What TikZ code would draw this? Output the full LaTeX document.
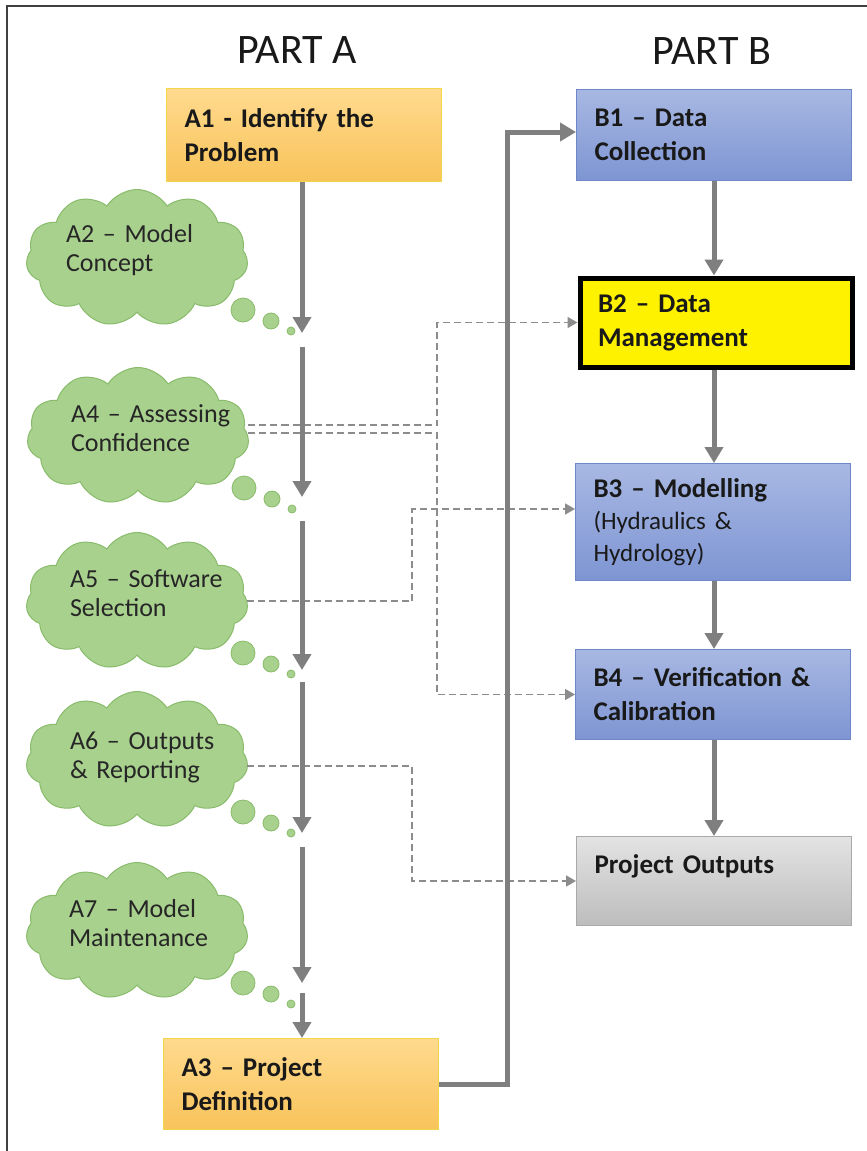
\documentclass[tikz,border=0pt]{standalone}
\usepackage{fontspec}
\setmainfont{Carlito}
\usetikzlibrary{arrows.meta,shapes.symbols,positioning}
\definecolor{arrowgray}{HTML}{7F7F7F}
\definecolor{dashgray}{HTML}{8C8C8C}
\definecolor{frameGray}{HTML}{404040}
\definecolor{aTop}{HTML}{FFDA8E}
\definecolor{aBot}{HTML}{F8C35A}
\definecolor{aLine}{HTML}{F3D54C}
\definecolor{bTop}{HTML}{A8B8E3}
\definecolor{bBot}{HTML}{7E95D3}
\definecolor{bLine}{HTML}{6E87C8}
\definecolor{oTop}{HTML}{E3E3E3}
\definecolor{oBot}{HTML}{BDBDBD}
\definecolor{oLine}{HTML}{A9A9A9}
\definecolor{cloudFill}{HTML}{A9D18E}
\definecolor{cloudLine}{HTML}{88BB6A}
\tikzset{
	>={Triangle[width=18pt,length=16pt]},
	flow/.style={draw=arrowgray, line width=5pt, ->},
	hint/.style={draw=dashgray, line width=1.6pt, dash pattern=on 7pt off 4pt,
		-{Triangle[width=11pt,length=10pt]}},
	stage/.style={
		rectangle,
		anchor=north west,
		inner xsep=18pt, inner ysep=0pt,
		text width=239pt,
		align=left,
		text=black!90,
		font=\fontsize{27}{34}\selectfont\bfseries,
		line width=1pt},
	partA/.style={stage, top color=aTop, bottom color=aBot, draw=aLine},
	partB/.style={stage, top color=bTop, bottom color=bBot, draw=bLine},
	thought/.style={
		cloud, cloud puffs=11, cloud puff arc=115, aspect=1.6, cloud ignores aspect,
		minimum width=222pt, minimum height=137pt, inner sep=0pt,
		fill=cloudFill, draw=cloudLine, line width=1pt},
	thoughttext/.style={text width=170pt, inner sep=0pt, xshift=14pt, yshift=8pt, align=left,
		font=\fontsize{26}{29}\selectfont, text=black!85},
	bubble/.style={fill=cloudFill, draw=cloudLine, line width=0.8pt},
	heading/.style={font=\fontsize{42}{48}\selectfont, anchor=base, text=black!90},
}
\begin{document}
\begin{tikzpicture}[x=1pt, y=-1pt]
	\useasboundingbox (0,0) rectangle (867,1151);
	\fill[white] (0,0) rectangle (867,1151);
	\draw[frameGray, line width=1.2pt] (7,1170) -- (7,6) -- (880,6);

	% headings
	\node[heading] (hA) at (297,63) {PART A};
	\node[heading] (hB) at (712,64) {PART B};

	% part A boxes
	\node[partA, minimum height=93pt] (A1) at (166,88) {A1 - Identify the\\Problem};
	\node[partA, minimum height=91pt] (A3) at (163,1038) {A3 – Project\\Definition};

	% part B boxes
	\node[partB, minimum height=91pt] (B1) at (576,89) {B1 – Data\\Collection};
	\node[stage, fill=yellow, draw=black, line width=5pt, text width=236pt,
		minimum height=89pt] (B2) at (577.5,275.5) {B2 – Data\\Management};
	\node[partB, minimum height=117pt, font=\fontsize{27}{32}\selectfont\bfseries] (B3) at (575,463)
		{B3 – Modelling\\{\mdseries\fontsize{25}{32}\selectfont (Hydraulics \&}\\{\mdseries\fontsize{25}{32}\selectfont Hydrology)}};
	\node[partB, minimum height=90pt] (B4) at (575,649) {B4 – Verification \&\\Calibration};
	\node[stage, top color=oTop, bottom color=oBot, draw=oLine,
		minimum height=89pt] (PO) at (576,836) {Project Outputs\\\mbox{}};

	% thought clouds
	\node[thought, label={[thoughttext]center:{A2 – Model\\Concept}}] (A2) at (137,258) {};
	\node[thought, label={[thoughttext, xshift=4pt]center:{A4 – Assessing\\Confidence}}] (A4) at (138,436) {};
	\node[thought, label={[thoughttext, xshift=4pt]center:{A5 – Software\\Selection}}] (A5) at (137,601) {};
	\node[thought, label={[thoughttext, xshift=4pt, yshift=-5pt]center:{A6 – Outputs\\\& Reporting}}] (A6) at (137,760) {};
	\node[thought, label={[thoughttext, xshift=3pt]center:{A7 – Model\\Maintenance}}] (A7) at (137,931) {};
	\foreach \c in {A2,A4,A5,A6,A7} {
		\filldraw[bubble] ([shift={(106,52)}]\c.center) circle (12pt);
		\filldraw[bubble] ([shift={(134,63)}]\c.center) circle (8pt);
		\filldraw[bubble] ([shift={(154,73)}]\c.center) circle (4pt);
	}

	% dashed links
	\coordinate (lane1) at (437,0);
	\coordinate (lane2) at (412,0);
	\coordinate (b3in) at ([yshift=13pt]B3.west);
	\draw[hint] ([yshift=11pt]A4.east) -| (lane1 |- B2.west) -- (B2.west);
	\draw[hint] ([yshift=3pt]A4.east) -| (lane1 |- B4.west) -- (B4.west);
	\draw[hint] (A5.east) -| (lane2 |- b3in) -- (b3in);
	\draw[hint] ([yshift=-6pt]A6.east) -| (lane2 |- PO.west) -- (PO.west);

	% main spine of part A
	\coordinate (t1) at (302,333); \coordinate (s1) at (302,347);
	\coordinate (t2) at (302,497); \coordinate (s2) at (302,521);
	\coordinate (t3) at (302,670); \coordinate (s3) at (302,682);
	\coordinate (t4) at (302,833); \coordinate (s4) at (302,847);
	\coordinate (t5) at (302,983); \coordinate (s5) at (302,993);
	\draw[flow] (A1.south -| t1) -- (t1);
	\draw[flow] (s1) -- (t2);
	\draw[flow] (s2) -- (t3);
	\draw[flow] (s3) -- (t4);
	\draw[flow] (s4) -- (t5);
	\draw[flow] (s5) -- (s5 |- A3.north);

	% A3 to B1 and part B chain
	\coordinate (riser) at (507,0);
	\coordinate (b1in) at ([yshift=3pt]B1.west);
	\draw[flow] (A3.east) -| (riser |- b1in) -- (b1in);
	\draw[flow] (B1.south -| PO.north) -- (B2.north -| PO.north);
	\draw[flow] (B2.south -| PO.north) -- (B3.north -| PO.north);
	\draw[flow] (B3.south -| PO.north) -- (B4.north -| PO.north);
	\draw[flow] (B4.south -| PO.north) -- (PO.north);
\end{tikzpicture}
\end{document}
